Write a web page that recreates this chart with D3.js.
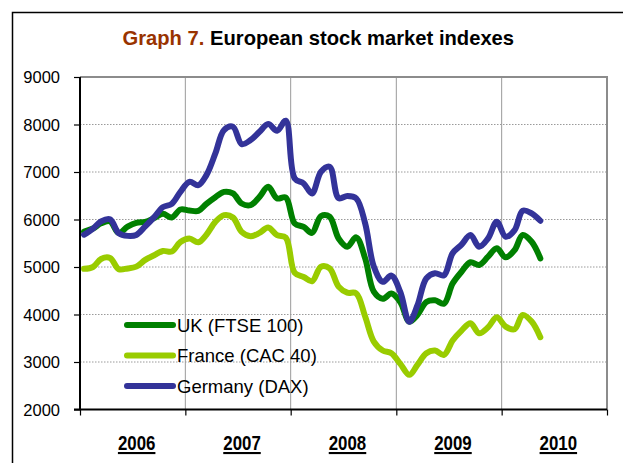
<!DOCTYPE html>
<html><head><meta charset="utf-8">
<script src="https://cdn.jsdelivr.net/npm/d3@7/dist/d3.min.js"></script>
<style>html,body{margin:0;padding:0;background:#fff;}svg{display:block;}</style>
</head><body>
<svg id="c" width="623" height="463"></svg>
<script>
const titlePrefix = "Graph 7.";
const titleMain = " European stock market indexes";
const years = ["2006","2007","2008","2009","2010"];
const yTicks = [2000,3000,4000,5000,6000,7000,8000,9000];
const startYear = 2006, startMonth = 0;
const seriesNames = ["UK (FTSE 100)","France (CAC 40)","Germany (DAX)"];
const uk = [5745,5810,5920,5960,5718,5850,5930,5950,6030,6120,6042,6211,6190,6180,6330,6470,6582,6548,6337,6302,6477,6688,6443,6464,5916,5845,5718,6073,6058,5600,5428,5624,5182,4480,4330,4440,4260,3850,3990,4264,4299,4229,4651,4900,5100,5042,5217,5393,5203,5358,5673,5533,5182];
const france = [4962,5000,5170,5190,4955,4970,5008,5150,5248,5338,5325,5528,5600,5520,5680,5950,6091,6042,5739,5648,5718,5831,5669,5620,4875,4790,4700,5007,4972,4587,4460,4446,3956,3430,3241,3185,2960,2729,2939,3185,3241,3150,3451,3661,3816,3605,3731,3942,3746,3690,3991,3851,3521];
const germany = [5680,5810,5960,6005,5715,5655,5675,5855,6050,6260,6330,6583,6793,6723,6934,7392,7883,7953,7588,7672,7847,8009,7868,8079,6864,6759,6548,7005,7110,6450,6493,6444,5918,5010,4688,4820,4470,3845,4190,4760,4870,4826,5290,5470,5673,5428,5603,5953,5638,5778,6185,6129,5974];
const colors = ["#008000","#99cc00","#333399"];

const svg = d3.select("#c");
const FONT = "'Liberation Sans', Arial, sans-serif";
const X0 = 80, X1 = 607, YT = 77, YB = 409.5;

const x = d3.scaleTime().domain([new Date(2006,0,1), new Date(2011,0,1)]).range([X0, X1]);
const y = d3.scaleLinear().domain([2000, 9000]).range([YB, YT]);

// outer frame
svg.append("path").attr("d", "M12.5,463V12.5H623").attr("fill","none").attr("stroke","#000").attr("stroke-width",1.5);

// title
const t = svg.append("text").attr("x",122.5).attr("y",45).attr("font-family",FONT).attr("font-weight","bold").attr("font-size",20.2);
t.append("tspan").attr("fill","#993300").text(titlePrefix);
t.append("tspan").attr("fill","#000").text(titleMain);

// horizontal gridlines (dotted)
svg.append("g").selectAll("line").data(yTicks.filter(v => v>2000 && v<9000)).join("line")
  .attr("x1",X0).attr("x2",X1).attr("y1",d=>y(d)).attr("y2",d=>y(d))
  .attr("stroke","#9a9a9a").attr("stroke-width",1).attr("stroke-dasharray","1.5,1.5");

// vertical gridlines (solid)
const yearStarts = years.map(yy => new Date(+yy,0,1)).concat([new Date(2011,0,1)]);
svg.append("g").selectAll("line").data(yearStarts.slice(1,5)).join("line")
  .attr("x1",d=>x(d)).attr("x2",d=>x(d)).attr("y1",YT).attr("y2",YB)
  .attr("stroke","#9a9a9a").attr("stroke-width",1);

// plot border top/right
svg.append("path").attr("d",`M${X0},${y(9000)}H${X1}V${YB}`).attr("fill","none").attr("stroke","#8c8c8c").attr("stroke-width",2);

// left axis
const yAxis = d3.axisLeft(y).tickValues(yTicks).tickSize(6).tickPadding(14).tickFormat(d3.format("d"));
const ga = svg.append("g").attr("transform",`translate(${X0},0)`).call(yAxis);
ga.select(".domain").attr("stroke","#000").attr("stroke-width",2).attr("d",`M0,${YT}V${YB}`);
ga.selectAll(".tick line").attr("stroke","#000").attr("stroke-width",1.2);
ga.selectAll(".tick text").attr("font-family",FONT).attr("font-size",16.5).attr("fill","#000").attr("dy","0.35em");

// bottom axis
const xAxis = d3.axisBottom(x).tickValues(yearStarts).tickSize(6).tickFormat("");
const gb = svg.append("g").attr("transform",`translate(0,${YB})`).call(xAxis);
gb.select(".domain").attr("stroke","#000").attr("stroke-width",2).attr("d",`M${X0-6},0H${X1}`);
gb.selectAll(".tick line").attr("stroke","#000").attr("stroke-width",1.2);

// year labels (bold, underlined)
svg.append("g").selectAll("text").data(years).join("text")
  .attr("x", d => (x(new Date(+d,0,1)) + x(new Date(+d+1,0,1)))/2 + 4)
  .attr("y", 450)
  .attr("text-anchor","middle")
  .attr("font-family","'Liberation Sans Narrow', 'Liberation Sans', Arial, sans-serif")
  .attr("font-weight","bold").attr("font-size",21)
  .attr("textLength",37.5).attr("lengthAdjust","spacingAndGlyphs")
  .attr("text-decoration","underline")
  .text(d=>d);

// series lines
const dates = uk.map((_,i) => new Date(startYear, startMonth + i, 15));
const line = d3.line().x((d,i)=>x(dates[i])).y(d=>y(d)).curve(d3.curveCatmullRom.alpha(0.5));
const allSeries = [uk, france, germany];
svg.append("g").selectAll("path").data(allSeries).join("path")
  .attr("d", d=>line(d)).attr("fill","none")
  .attr("stroke",(d,i)=>colors[i]).attr("stroke-width",6)
  .attr("stroke-linejoin","round").attr("stroke-linecap","round");

// legend
const lg = svg.append("g");
seriesNames.forEach((n,i) => {
  const cy = 325 + i*30.5;
  lg.append("line").attr("x1",127).attr("x2",173).attr("y1",cy).attr("y2",cy)
    .attr("stroke",colors[i]).attr("stroke-width",6).attr("stroke-linecap","round");
  lg.append("text").attr("x",177).attr("y",cy+6.5).attr("font-family",FONT).attr("font-size",18.5)
    .attr("fill","#000").text(n);
});
</script>
</body></html>
